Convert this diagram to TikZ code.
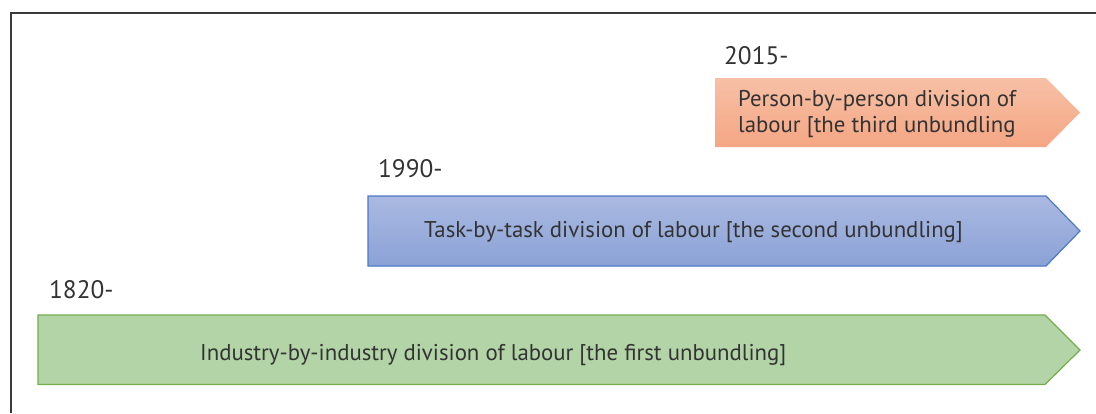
\documentclass[tikz,border=0pt]{standalone}
\usepackage{fontspec}
\setmainfont{PT Sans}
\definecolor{txt}{HTML}{333333}
\definecolor{frame}{HTML}{3A3A3A}
\definecolor{orTop}{HTML}{F7C0A6}
\definecolor{orBot}{HTML}{F4A683}
\definecolor{blTop}{HTML}{AAB9E1}
\definecolor{blBot}{HTML}{8BA2D6}
\definecolor{blLine}{HTML}{4E79C4}
\definecolor{grFill}{HTML}{B3D4A6}
\definecolor{grLine}{HTML}{72AE4E}
\begin{document}
\begin{tikzpicture}[x=1pt,y=-1pt,
  lbl/.style={anchor=base west,inner sep=0pt,text=txt,font=\fontsize{22.8}{26}\selectfont},
  year/.style={anchor=base west,inner sep=0pt,text=txt,font=\fontsize{25.3}{30}\selectfont}]
\useasboundingbox (0,0) rectangle (1096,413);
% frame
\draw[frame,line width=2pt] (11,413) -- (11,13) -- (1096,13);
% orange arrow
\path[top color=orTop,bottom color=orBot,draw=none]
  (715,78) -- (1046,78) -- (1080,112.5) -- (1046,147) -- (715,147) -- cycle;
% blue arrow
\path[top color=blTop,bottom color=blBot,draw=blLine,line width=1.2pt]
  (368,196) -- (1046,196) -- (1080,231) -- (1046,266) -- (368,266) -- cycle;
% green arrow
\path[fill=grFill,draw=grLine,line width=1.2pt]
  (38,315) -- (1045,315) -- (1080,350) -- (1045,384.5) -- (38,384.5) -- cycle;
% years
\node[year] (y2015) at (724,64) {2015-};
\node[year] (y1990) at (378,177) {1990-};
\node[year] (y1820) at (49,298) {1820-};
% labels
\node[lbl] (p1) at (738,106) {Person-by-person division of};
\node[lbl] (p2) at (738,132) {labour [the third unbundling};
\node[lbl] (t1) at (424,237) {Task-by-task division of labour [the second unbundling]};
\node[lbl] (i1) at (200,360) {Industry-by-industry division of labour [the first unbundling]};
\end{tikzpicture}
\end{document}
